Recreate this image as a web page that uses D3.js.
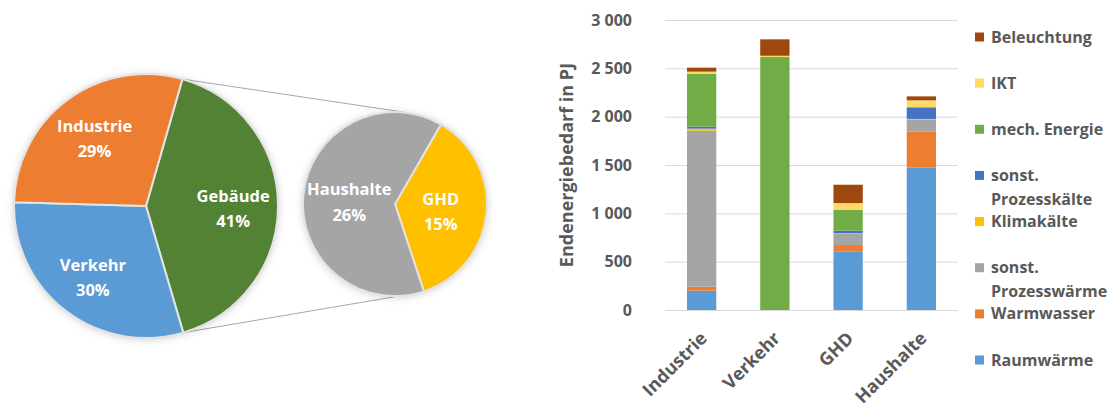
<!DOCTYPE html>
<html>
<head>
<meta charset="utf-8">
<script src="https://cdn.jsdelivr.net/npm/d3@7"></script>
<style>
  body { margin: 0; background: #fff; }
  svg { display: block; font-family: "Open Sans", Lato, sans-serif; font-weight: 700; }
</style>
</head>
<body>
<svg id="chart" width="1116" height="407"></svg>
<script>
// pie of pie: share of final energy by sector
var pieCategories = ["Gebäude", "Verkehr", "Industrie"];
var pieShares = [41, 30, 29];
var pieColors = ["#548235", "#5B9BD5", "#ED7D31"];

var subCategories = ["GHD", "Haushalte"];
var subShares = [15, 26];
var subColors = ["#FFC000", "#A5A5A5"];

// stacked bars: Endenergiebedarf in PJ
var sectors = ["Industrie", "Verkehr", "GHD", "Haushalte"];
var uses = ["Raumwärme", "Warmwasser", "sonst. Prozesswärme", "Klimakälte",
            "sonst. Prozesskälte", "mech. Energie", "IKT", "Beleuchtung"];
var useColors = ["#5B9BD5", "#ED7D31", "#A5A5A5", "#FFC000",
                 "#4472C4", "#70AD47", "#FFD966", "#9E480E"];

var raumwaerme    = [200, 0, 603, 1472];
var warmwasser    = [41, 0, 69, 372];
var prozesswaerme = [1614, 0, 121, 128];
var klimakaelte   = [21, 0, 3, 5];
var prozesskaelte = [21, 0, 24, 120];
var mechEnergie   = [545, 2617, 217, 0];
var ikt           = [24, 13, 69, 72];
var beleuchtung   = [41, 170, 190, 41];

var yTicks = [0, 500, 1000, 1500, 2000, 2500, 3000];

var svg = d3.select("#chart");
var grey = "#595959";

var defs = svg.append("defs");
var shadow = defs.append("filter").attr("id", "shadow")
  .attr("x", "-20%").attr("y", "-20%").attr("width", "140%").attr("height", "140%");
shadow.append("feDropShadow")
  .attr("dx", 0).attr("dy", 1).attr("stdDeviation", 4)
  .attr("flood-color", "#000").attr("flood-opacity", 0.2);

var deg = Math.PI / 180;

// ---- main pie
var mainC = {x: 146, y: 206, r: 132};
var mainPie = d3.pie().sort(null).startAngle(16 * deg).endAngle(376 * deg);
var mainArcs = mainPie(pieShares);
var mainArc = d3.arc().innerRadius(0).outerRadius(mainC.r);
var mainLabelArc = d3.arc().innerRadius(mainC.r * 0.66).outerRadius(mainC.r * 0.66);

// ---- second pie (split of Gebäude)
var subC = {x: 395, y: 204, r: 92};
var subPie = d3.pie().sort(null).startAngle(30 * deg).endAngle(390 * deg);
var subArcs = subPie(subShares);
var subArc = d3.arc().innerRadius(0).outerRadius(subC.r);
var subLabelArc = d3.arc().innerRadius(subC.r * 0.5).outerRadius(subC.r * 0.5);

// connector lines from the Gebäude slice edges to the second pie
var g0 = mainArcs[0];
var pTop = [mainC.x + mainC.r * Math.sin(g0.startAngle), mainC.y - mainC.r * Math.cos(g0.startAngle)];
var pBot = [mainC.x + mainC.r * Math.sin(g0.endAngle), mainC.y - mainC.r * Math.cos(g0.endAngle)];
svg.append("line")
  .attr("x1", pTop[0]).attr("y1", pTop[1])
  .attr("x2", subC.x + 8).attr("y2", subC.y - subC.r)
  .attr("stroke", "#a6a6a6").attr("stroke-width", 1);
svg.append("line")
  .attr("x1", pBot[0]).attr("y1", pBot[1])
  .attr("x2", subC.x + 4).attr("y2", subC.y + subC.r)
  .attr("stroke", "#a6a6a6").attr("stroke-width", 1);

var gMain = svg.append("g").attr("transform", "translate(" + mainC.x + "," + mainC.y + ")");
gMain.append("circle").attr("r", mainC.r).attr("fill", "#fff").attr("filter", "url(#shadow)");
gMain.selectAll("path").data(mainArcs).enter().append("path")
  .attr("d", mainArc)
  .attr("fill", function(d, i) { return pieColors[i]; })
  .attr("stroke", "#e3e3e3").attr("stroke-width", 2);

var gSub = svg.append("g").attr("transform", "translate(" + subC.x + "," + subC.y + ")");
gSub.append("circle").attr("r", subC.r).attr("fill", "#fff").attr("filter", "url(#shadow)");
gSub.selectAll("path").data(subArcs).enter().append("path")
  .attr("d", subArc)
  .attr("fill", function(d, i) { return subColors[i]; })
  .attr("stroke", "#e3e3e3").attr("stroke-width", 2);

function pieLabel(g, arcs, labelArc, names) {
  var t = g.selectAll("text.lbl").data(arcs).enter().append("text")
    .attr("class", "lbl")
    .attr("transform", function(d) { return "translate(" + labelArc.centroid(d) + ")"; })
    .attr("text-anchor", "middle")
    .attr("fill", "#fff")
    .style("font-size", "16.5px");
  t.append("tspan").attr("x", 0).attr("dy", "-0.25em").text(function(d, i) { return names[i]; });
  t.append("tspan").attr("x", 0).attr("dy", "1.55em").text(function(d) { return d.data + "%"; });
}
pieLabel(gMain, mainArcs, mainLabelArc, pieCategories);
pieLabel(gSub, subArcs, subLabelArc, subCategories);

// ---- stacked bar chart
var x = d3.scaleBand().domain(sectors).range([665, 958]).paddingInner(0.6).paddingOuter(0.3);
var y = d3.scaleLinear().domain([0, 3000]).range([310, 20]);

var loc = d3.formatLocale({decimal: ",", thousands: " ", grouping: [3], currency: ["", " €"]});
var fmt = loc.format(",d");

svg.append("g").selectAll("line").data(yTicks).enter().append("line")
  .attr("x1", 665).attr("x2", 958)
  .attr("y1", function(d) { return y(d) + 0.5; })
  .attr("y2", function(d) { return y(d) + 0.5; })
  .attr("stroke", "#d9d9d9").attr("stroke-width", 1);

svg.append("g").selectAll("text").data(yTicks).enter().append("text")
  .attr("x", 632).attr("y", function(d) { return y(d); })
  .attr("dy", "0.35em").attr("text-anchor", "end")
  .attr("fill", grey).style("font-size", "16px")
  .text(fmt);

svg.append("text")
  .attr("transform", "translate(567," + y(1500) + ") rotate(-90)")
  .attr("dy", "0.35em").attr("text-anchor", "middle")
  .attr("fill", grey).style("font-size", "18px")
  .text("Endenergiebedarf in PJ");

var useValues = [raumwaerme, warmwasser, prozesswaerme, klimakaelte,
                 prozesskaelte, mechEnergie, ikt, beleuchtung];
var table = sectors.map(function(s, j) {
  var row = {sector: s};
  uses.forEach(function(u, i) { row[u] = useValues[i][j]; });
  return row;
});
var series = d3.stack().keys(uses)(table);

svg.append("g").selectAll("g").data(series).enter().append("g")
  .attr("fill", function(d, i) { return useColors[i]; })
  .selectAll("rect").data(function(d) { return d; }).enter().append("rect")
  .attr("x", function(d) { return x(d.data.sector); })
  .attr("width", x.bandwidth())
  .attr("y", function(d) { return y(d[1]); })
  .attr("height", function(d) { return y(d[0]) - y(d[1]); });

svg.append("g").selectAll("text").data(sectors).enter().append("text")
  .attr("transform", function(d) {
    return "translate(" + (x(d) + x.bandwidth() / 2 + 2) + ",335) rotate(-45)";
  })
  .attr("dy", "0.35em").attr("text-anchor", "end")
  .attr("fill", grey).style("font-size", "18px")
  .text(function(d) { return d; });

// legend, top entry = top of stack
var legendKeys = uses.slice().reverse();
var ly = d3.scalePoint().domain(legendKeys).range([37, 360]);
var leg = svg.append("g").selectAll("g").data(legendKeys).enter().append("g")
  .attr("transform", function(d) { return "translate(975," + ly(d) + ")"; });
leg.append("rect")
  .attr("x", 0).attr("y", -4.5).attr("width", 9).attr("height", 9)
  .attr("fill", function(d) { return useColors[uses.indexOf(d)]; });
var lt = leg.append("text")
  .attr("fill", grey).style("font-size", "16px");
lt.each(function(d) {
  var parts = d.split(/(?<=sonst\.) /);
  var t = d3.select(this);
  parts.forEach(function(p, k) {
    t.append("tspan").attr("x", 16).attr("y", k * 24).attr("dy", "0.35em").text(p);
  });
});
</script>
</body>
</html>
